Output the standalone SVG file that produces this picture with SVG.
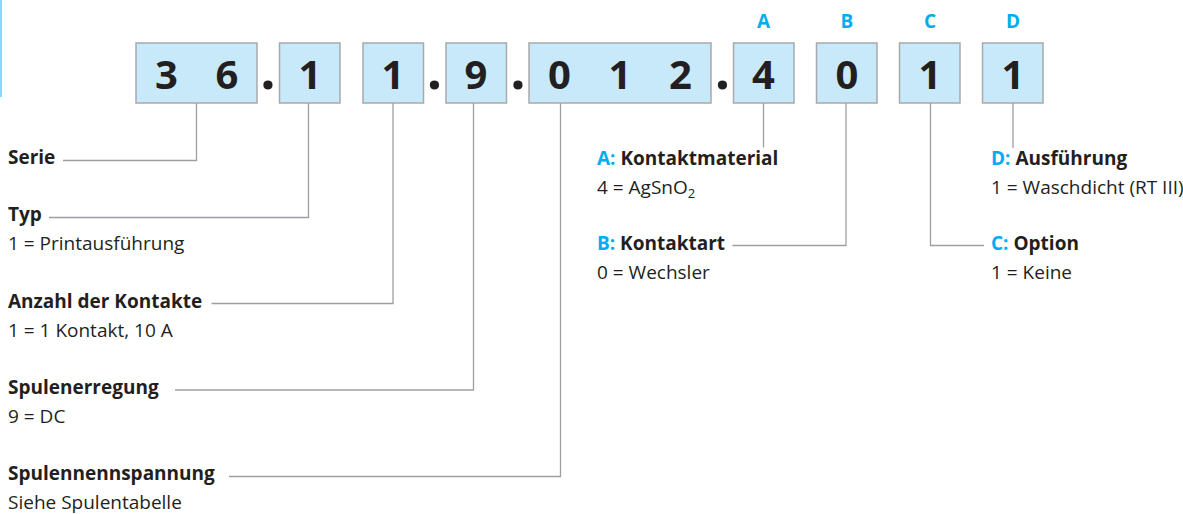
<svg xmlns="http://www.w3.org/2000/svg" width="1183" height="514" viewBox="0 0 1183 514">
<style>
.box{fill:#c8e9f9;stroke:#a7a9ac;stroke-width:1.5}
.dig{font-family:"Open Sans","Liberation Sans",sans-serif;font-weight:bold;font-size:40px;fill:#231f20;text-anchor:middle}
.dot{font-family:"Open Sans","Liberation Sans",sans-serif;font-weight:bold;font-size:54px;fill:#231f20;text-anchor:middle}
.let{font-family:"Open Sans","Liberation Sans",sans-serif;font-weight:bold;font-size:19px;fill:#00aeef;text-anchor:middle}
.lb{font-family:"Open Sans","Liberation Sans",sans-serif;font-weight:bold;font-size:19px;fill:#231f20}
.val{font-family:"Open Sans","Liberation Sans",sans-serif;font-size:19px;fill:#231f20}
.cy{fill:#00aeef}
.con{fill:none;stroke:#9d9fa2;stroke-width:1.3}
</style>
<line x1="1" y1="0" x2="1" y2="97" stroke="#5bcff4" stroke-width="1.5"/>
<g id="code">
  <g id="box-serie"><rect class="box" x="136" y="43" width="121" height="60"/><text class="dig" x="166.5" y="89">3</text><text class="dig" x="227" y="89">6</text></g>
  <text class="dot" x="268" y="89">.</text>
  <g id="box-typ"><rect class="box" x="279.5" y="43" width="60.5" height="60"/><text class="dig" x="310" y="89">1</text></g>
  <g id="box-kontakte"><rect class="box" x="363" y="43" width="60.5" height="60"/><text class="dig" x="393" y="89">1</text></g>
  <text class="dot" x="434.5" y="89">.</text>
  <g id="box-erregung"><rect class="box" x="446" y="43" width="60.5" height="60"/><text class="dig" x="476" y="89">9</text></g>
  <text class="dot" x="518" y="89">.</text>
  <g id="box-spannung"><rect class="box" x="529" y="43" width="182" height="60"/><text class="dig" x="559.5" y="89">0</text><text class="dig" x="620" y="89">1</text><text class="dig" x="680.5" y="89">2</text></g>
  <text class="dot" x="722.5" y="89">.</text>
  <g id="box-a"><text class="let" x="763.5" y="28">A</text><rect class="box" x="733.5" y="43" width="60.5" height="60"/><text class="dig" x="763.5" y="89">4</text></g>
  <g id="box-b"><text class="let" x="847" y="28">B</text><rect class="box" x="816.5" y="43" width="60.5" height="60"/><text class="dig" x="847" y="89">0</text></g>
  <g id="box-c"><text class="let" x="930" y="28">C</text><rect class="box" x="899.5" y="43" width="60.5" height="60"/><text class="dig" x="930" y="89">1</text></g>
  <g id="box-d"><text class="let" x="1013" y="28">D</text><rect class="box" x="982.5" y="43" width="60.5" height="60"/><text class="dig" x="1013" y="89">1</text></g>
</g>
<g id="connectors">
  <polyline class="con" points="196.5,103 196.5,160.5 63,160.5"/>
  <polyline class="con" points="308.5,103 308.5,217.5 49,217.5"/>
  <polyline class="con" points="393,103 393,303.5 211.5,303.5"/>
  <polyline class="con" points="473.5,103 473.5,390 175,390"/>
  <polyline class="con" points="560.5,103 560.5,476.5 229,476.5"/>
  <polyline class="con" points="763.5,103 763.5,147.5"/>
  <polyline class="con" points="846,103 846,245.5 732.5,245.5"/>
  <polyline class="con" points="930.5,103 930.5,245.5 984,245.5"/>
  <polyline class="con" points="1013,103 1013,148"/>
</g>
<g id="serie"><text class="lb" x="8" y="164">Serie</text></g>
<g id="typ"><text class="lb" x="8" y="221">Typ</text><text class="val" x="8" y="250">1 = Printausführung</text></g>
<g id="anzahl"><text class="lb" x="8" y="307.5">Anzahl der Kontakte</text><text class="val" x="8" y="337">1 = 1 Kontakt, 10 A</text></g>
<g id="erregung"><text class="lb" x="8" y="394">Spulenerregung</text><text class="val" x="8" y="423">9 = DC</text></g>
<g id="spannung"><text class="lb" x="8" y="480">Spulennennspannung</text><text class="val" x="8" y="509">Siehe Spulentabelle</text></g>
<g id="kontaktmaterial"><text class="lb" x="597" y="165"><tspan class="cy">A:</tspan> Kontaktmaterial</text><text class="val" x="597" y="193.5">4 = AgSnO<tspan font-size="13" dy="4">2</tspan></text></g>
<g id="kontaktart"><text class="lb" x="597" y="250"><tspan class="cy">B:</tspan> Kontaktart</text><text class="val" x="597" y="278.5">0 = Wechsler</text></g>
<g id="ausfuehrung"><text class="lb" x="991" y="165"><tspan class="cy">D:</tspan> Ausführung</text><text class="val" x="991" y="193.5">1 = Waschdicht (RT III)</text></g>
<g id="option"><text class="lb" x="991" y="250"><tspan class="cy">C:</tspan> Option</text><text class="val" x="991" y="278.5">1 = Keine</text></g>
</svg>
